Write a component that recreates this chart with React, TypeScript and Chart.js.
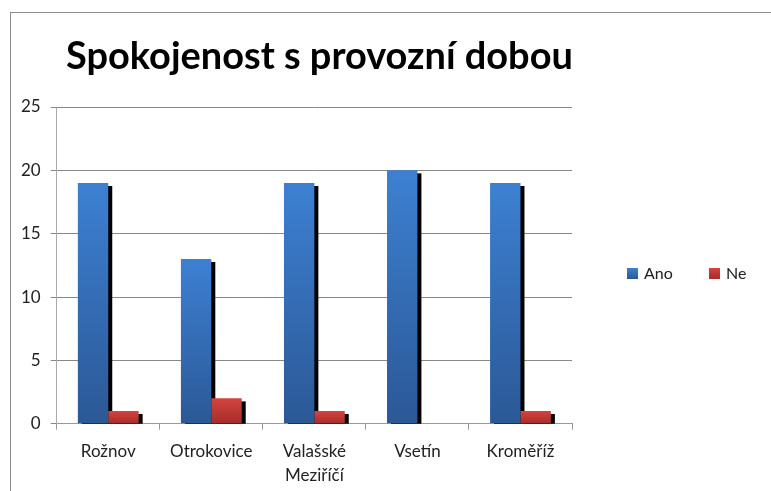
import React, { useEffect, useRef } from 'react';
import { Chart, registerables } from 'chart.js';

Chart.register(...registerables);

const titleText = 'Spokojenost s provozní dobou';
const categories: (string | string[])[] = ['Rožnov', 'Otrokovice', ['Valašské', 'Meziříčí'], 'Vsetín', 'Kroměříž'];
const anoValues = [19, 13, 19, 20, 19];
const neValues = [1, 2, 1, 0, 1];
const seriesNames = ['Ano', 'Ne'];
const yMin = 0;
const yMax = 25;
const yStep = 5;

const FONT = 'Lato, "Open Sans", sans-serif';
const BLUE = ['#3d80d2', '#2b5896'];
const RED = ['#d4433f', '#a52d2a'];

function barGradient(ctx: any, colors: string[]) {
  const chart = ctx.chart;
  const y = chart.scales?.y;
  if (!y || ctx.raw === undefined) return colors[0];
  const top = y.getPixelForValue(ctx.raw);
  const base = y.getPixelForValue(0);
  if (!isFinite(top) || !isFinite(base) || base - top < 1) return colors[0];
  const g = chart.ctx.createLinearGradient(0, top, 0, base);
  g.addColorStop(0, colors[0]);
  g.addColorStop(1, colors[1]);
  return g;
}

const shadowPlugin = {
  id: 'barShadow',
  beforeDatasetsDraw(chart: any) {
    const { ctx, chartArea } = chart;
    ctx.save();
    ctx.beginPath();
    ctx.rect(chartArea.left, chartArea.top, chartArea.right - chartArea.left, chartArea.bottom - chartArea.top);
    ctx.clip();
    ctx.fillStyle = '#000';
    chart.data.datasets.forEach((_: any, i: number) => {
      const meta = chart.getDatasetMeta(i);
      meta.data.forEach((el: any) => {
        const h = el.base - el.y;
        if (h <= 0) return;
        ctx.fillRect(el.x - el.width / 2 + 4, el.y + 3, el.width, h);
      });
    });
    ctx.restore();
  },
};

const decorPlugin = {
  id: 'decor',
  afterDraw(chart: any) {
    const { ctx } = chart;
    ctx.save();
    // title
    let size = 34;
    ctx.font = `bold ${size}px ${FONT}`;
    const w = ctx.measureText(titleText).width;
    size = (size * 507) / w;
    ctx.font = `bold ${size}px ${FONT}`;
    ctx.fillStyle = '#000';
    ctx.textBaseline = 'alphabetic';
    ctx.textAlign = 'left';
    ctx.fillText(titleText, 66, 69);

    // legend
    const items = [
      { label: seriesNames[0], colors: BLUE, x: 627 },
      { label: seriesNames[1], colors: RED, x: 709 },
    ];
    ctx.font = `16px ${FONT}`;
    ctx.textBaseline = 'middle';
    items.forEach((it) => {
      const g = ctx.createLinearGradient(0, 268, 0, 279);
      g.addColorStop(0, it.colors[0]);
      g.addColorStop(1, it.colors[1]);
      ctx.fillStyle = g;
      ctx.fillRect(it.x, 268, 11, 11);
      ctx.fillStyle = '#222';
      ctx.fillText(it.label, it.x + 17, 274);
    });
    ctx.restore();
  },
};

export default function App() {
  const ref = useRef<HTMLCanvasElement>(null);
  useEffect(() => {
    if (!ref.current) return;
    const chart = new Chart(ref.current, {
      type: 'bar',
      data: {
        labels: categories,
        datasets: [
          {
            label: seriesNames[0],
            data: anoValues,
            backgroundColor: (c: any) => barGradient(c, BLUE),
            borderWidth: 0,
            categoryPercentage: 0.59,
            barPercentage: 1,
          },
          {
            label: seriesNames[1],
            data: neValues,
            backgroundColor: (c: any) => barGradient(c, RED),
            borderWidth: 0,
            categoryPercentage: 0.59,
            barPercentage: 1,
          },
        ],
      },
      options: {
        animation: false,
        responsive: false,
        maintainAspectRatio: false,
        layout: { padding: { left: 11, right: 199, top: 107, bottom: -6 } },
        plugins: {
          legend: { display: false },
          title: { display: false },
          tooltip: { enabled: false },
        },
        scales: {
          x: {
            grid: { display: true, drawOnChartArea: false, drawTicks: true, tickLength: 6, color: '#999' },
            border: { display: true, color: '#999', width: 1 },
            ticks: { color: '#222', font: { family: FONT, size: 17, lineHeight: 1.45 }, padding: 9, maxRotation: 0, autoSkip: false },
          },
          y: {
            min: yMin,
            max: yMax,
            grid: { display: true, color: '#888', tickLength: 6, drawTicks: true },
            border: { display: true, color: '#aaa', width: 1 },
            ticks: { stepSize: yStep, color: '#222', font: { family: FONT, size: 17 }, padding: 10 },
          },
        },
      },
      plugins: [shadowPlugin, decorPlugin],
    });
    return () => chart.destroy();
  }, []);

  return (
    <div style={{ position: 'absolute', left: 0, top: 0, width: 771, height: 491, background: '#fff', overflow: 'hidden' }}>
      <div
        style={{
          position: 'absolute',
          left: 10,
          top: 12,
          width: 771,
          height: 491,
          borderLeft: '1px solid #8c8c8c',
          borderTop: '1px solid #8c8c8c',
        }}
      />
      <canvas ref={ref} width={771} height={491} style={{ position: 'absolute', left: 0, top: 0 }} />
    </div>
  );
}
